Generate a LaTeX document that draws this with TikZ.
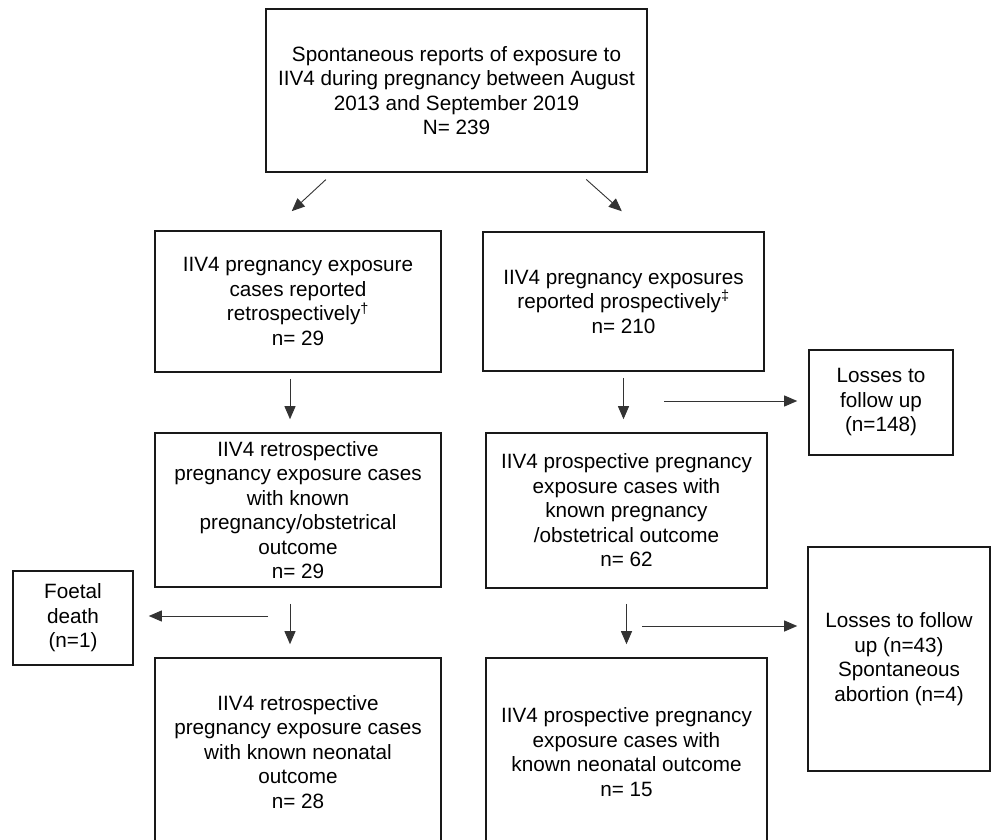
\documentclass[tikz,border=0pt]{standalone}
\usepackage{fontspec}
\setmainfont{Liberation Sans}
\usepackage{tikz}
\usetikzlibrary{arrows.meta}

\begin{document}
\begin{tikzpicture}[x=1pt, y=-1pt,
        box/.style={draw=black!90, line width=1.6pt, inner sep=0pt, align=center,
            font=\fontsize{20.7}{24.5}\selectfont},
        arr/.style={-{Triangle[length=13pt, width=11pt]}, line width=0.9pt, black!80}]
            \useasboundingbox (0,0) rectangle (993,840);
            \clip (0,0) rectangle (993,840);
            \fill [white] (0,0) rectangle (993,840);
            \node [box, minimum width=381pt, minimum height=163pt] (top) at (456.5,90.5)
                {Spontaneous reports of exposure to\\IIV4 during pregnancy between August\\2013 and September 2019\\N= 239};
            \node [box, minimum width=286pt, minimum height=141pt] (retro1) at (298,301.5)
                {IIV4 pregnancy exposure\\cases reported\\retrospectively\textsuperscript{†}\\n= 29};
            \node [box, minimum width=281pt, minimum height=139pt] (pro1) at (623.5,301.5)
                {IIV4 pregnancy exposures\\reported prospectively\textsuperscript{‡}\\n= 210};
            \node [box, minimum width=144pt, minimum height=105pt] (loss1) at (881,402.5)
                {Losses to\\follow up\\(n=148)};
            \node [box, minimum width=286pt, minimum height=154pt] (retro2) at (298,510)
                {IIV4 retrospective\\pregnancy exposure cases\\with known\\pregnancy/obstetrical\\outcome\\n= 29};
            \node [box, minimum width=281pt, minimum height=155pt] (pro2) at (626.5,510.5)
                {IIV4 prospective pregnancy\\exposure cases with\\known pregnancy\\/obstetrical outcome\\n= 62};
            \node [box, minimum width=120pt, minimum height=94pt] (foetal) at (73,618)
                {Foetal\\death\\(n=1)};
            \node [box, minimum width=182pt, minimum height=224pt] (loss2) at (899,659)
                {Losses to follow\\up (n=43)\\Spontaneous\\abortion (n=4)};
            \node [box, minimum width=286pt, minimum height=188pt] (retro3) at (298,752)
                {IIV4 retrospective\\pregnancy exposure cases\\with known neonatal\\outcome\\n= 28};
            \node [box, minimum width=281pt, minimum height=188pt] (pro3) at (626.5,752)
                {IIV4 prospective pregnancy\\exposure cases with\\known neonatal outcome\\n= 15};
            \coordinate (split1) at (664,401);
            \coordinate (split2) at (642,626);
            \coordinate (split3) at (268,616);
            \draw [arr, shorten <=10pt, shorten >=28pt] ([xshift=68pt]top.south west) -- ([xshift=117pt]retro1.north west);
            \draw [arr, shorten <=10pt, shorten >=30pt] ([xshift=-69pt]top.south east) -- ([xshift=162pt]pro1.north west);
            \draw [arr, shorten <=6pt, shorten >=13pt] ([xshift=-8pt]retro1.south) -- ([xshift=-8pt]retro2.north);
            \draw [arr, shorten <=6pt, shorten >=13pt] (pro1.south) -- (pro1.south |- pro2.north);
            \draw [arr, shorten >=11pt] (split1) -- (split1 -| loss1.west);
            \draw [arr, shorten <=16pt, shorten >=13pt] ([xshift=-8pt]retro2.south) -- ([xshift=-8pt]retro3.north);
            \draw [arr, shorten <=15pt, shorten >=13pt] (pro2.south) -- (pro2.south |- pro3.north);
            \draw [arr, shorten >=10pt] (split2) -- (split2 -| loss2.west);
            \draw [arr, shorten >=15pt] (split3) -- (split3 -| foetal.east);
        \end{tikzpicture}
\end{document}
